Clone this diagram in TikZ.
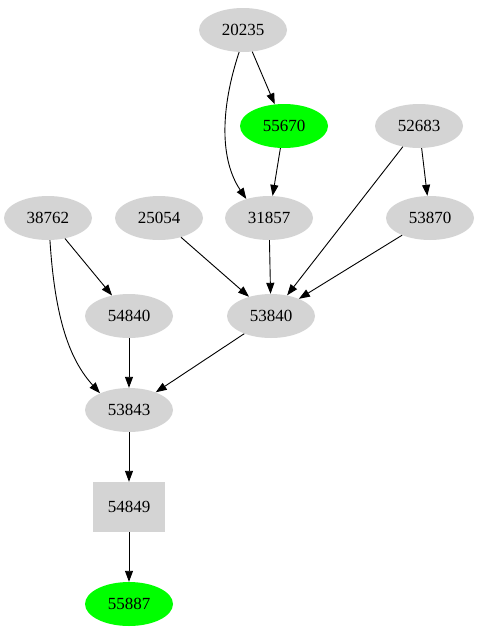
\documentclass[tikz,border=0pt]{standalone}
\usepackage{fontspec}
\setmainfont{Liberation Serif}
\usetikzlibrary{arrows.meta,shapes.geometric}
\begin{document}
\begin{tikzpicture}[x=1pt,y=-1pt,
  nd/.style={ellipse,fill=black!17,minimum width=88pt,minimum height=44pt,inner sep=0pt,font=\fontsize{17}{20}\selectfont},
  grn/.style={nd,fill=green},
  bx/.style={rectangle,fill=black!17,minimum width=72pt,minimum height=50pt,inner sep=0pt,font=\fontsize{17}{20}\selectfont},
  ed/.style={-{Triangle[length=11pt,width=8pt]},line width=0.9pt}]
\useasboundingbox (0,0) rectangle (479,635);
\node[nd] (n20235) at (243,30) {20235};
\node[grn] (n55670) at (284,126) {55670};
\node[nd] (n52683) at (419,126) {52683};
\node[nd] (n38762) at (48,218) {38762};
\node[nd] (n25054) at (159,218) {25054};
\node[nd] (n31857) at (269,218) {31857};
\node[nd] (n53870) at (430,218) {53870};
\node[nd] (n54840) at (129,316) {54840};
\node[nd] (n53840) at (271,316) {53840};
\node[nd] (n53843) at (129,410) {53843};
\node[bx] (n54849) at (129,507) {54849};
\node[grn] (n55887) at (129,604) {55887};
\draw[ed] (n20235) -- (n55670);
\draw[ed] (n20235.-100) .. controls (220,110) and (220,160) .. (n31857.140);
\draw[ed] (n55670) -- (n31857);
\draw[ed] (n52683) -- (n53870);
\draw[ed] (n52683) -- (n53840);
\draw[ed] (n25054) -- (n53840);
\draw[ed] (n31857) -- (n53840);
\draw[ed] (n53870) -- (n53840);
\draw[ed] (n38762) -- (n54840);
\draw[ed] (n38762.-85) .. controls (55,320) and (70,360) .. (n53843.150);
\draw[ed] (n54840) -- (n53843);
\draw[ed] (n53840) -- (n53843);
\draw[ed] (n53843) -- (n54849);
\draw[ed] (n54849) -- (n55887);
\end{tikzpicture}
\end{document}
